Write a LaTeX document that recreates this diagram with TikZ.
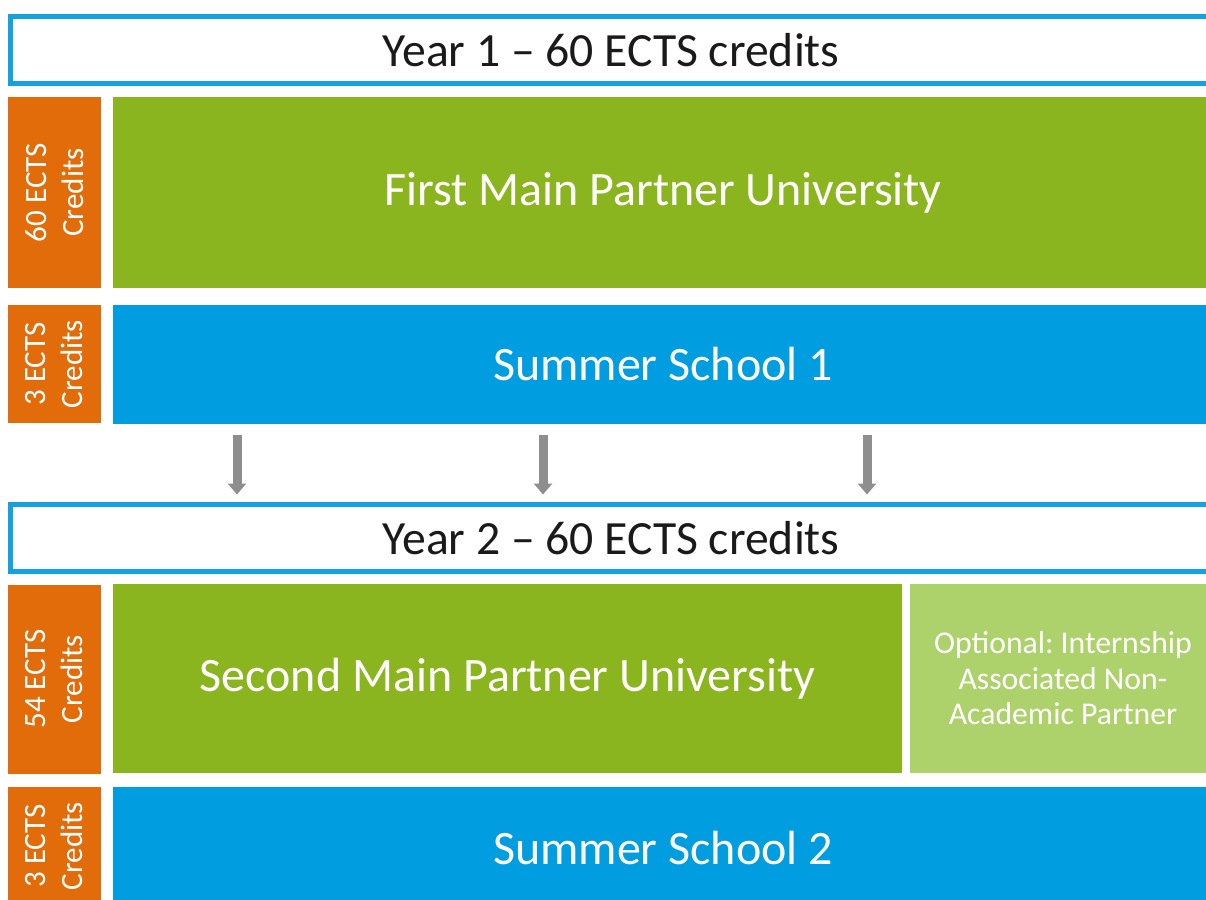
\documentclass[tikz,border=0pt]{standalone}
\usepackage{fontspec}
\setmainfont{Carlito}
\usetikzlibrary{arrows.meta}
\definecolor{orng}{HTML}{E36C0A}
\definecolor{grn}{HTML}{8AB51F}
\definecolor{lgrn}{HTML}{ADD26C}
\definecolor{blu}{HTML}{009EE0}
\definecolor{bord}{HTML}{14A1E2}
\definecolor{arrgray}{HTML}{8E8E8E}
\definecolor{txt}{HTML}{1A1A1A}
\frenchspacing
\begin{document}
\begin{tikzpicture}[x=1pt,y=-1pt,
  box/.style={anchor=north west, inner sep=0pt, outer sep=0pt, text=white, align=center},
  bigtext/.style={font=\fontsize{48}{57}\selectfont},
  yearbar/.style={box, draw=bord, line width=5pt, fill=white, text=txt, font=\fontsize{47.7}{56}\selectfont},
  credit/.style={inner sep=0pt, outer sep=0pt, fill=orng, text=white, rotate=90, align=center, font=\fontsize{31}{37}\selectfont},
  arr/.style={-{Triangle[width=18pt,length=11pt]}, line width=9pt, draw=arrgray}
]
\useasboundingbox (0,0) rectangle (1206,899);
\clip (0,0) rectangle (1206,899);
\fill[white] (0,0) rectangle (1206,899);

% Year 1
\node[yearbar, minimum width=1201pt, minimum height=66.5pt] (y1) at (10.5,16.5) {Year 1 -- 60 ECTS credits};
\node[credit, minimum width=191pt, minimum height=93pt] (c1) at (54.5,192.5) {60 ECTS\\Credits};
\node[box, bigtext, fill=grn, minimum width=1100pt, minimum height=191pt] (mp1) at (113,97) {First Main Partner University};
\node[credit, minimum width=118pt, minimum height=93pt] (c2) at (54.5,364) {3 ECTS\\Credits};
\node[box, bigtext, fill=blu, minimum width=1100pt, minimum height=119pt] (ss1) at (113,305) {Summer School 1};

% Year 2
\node[yearbar, minimum width=1201pt, minimum height=67pt] (y2) at (10.5,504.5) {Year 2 -- 60 ECTS credits};
\node[credit, minimum width=189pt, minimum height=93pt] (c3) at (54.5,679) {54 ECTS\\Credits};
\node[box, bigtext, fill=grn, minimum width=789pt, minimum height=189pt] (mp2) at (113,584) {Second Main Partner University};
\node[box, fill=lgrn, minimum width=306pt, minimum height=189pt, font=\fontsize{31.7}{35.5}\selectfont] (opt) at (910,584) {Optional: Internship\\Associated Non-\\Academic Partner};
\node[credit, minimum width=118pt, minimum height=93pt] (c4) at (54.5,846) {3 ECTS\\Credits};
\node[box, bigtext, fill=blu, minimum width=1100pt, minimum height=122pt] (ss2) at (113,787) {Summer School 2};

% arrows
\foreach \dx in {-426,-120,204}{
  \draw[arr, shorten <=11pt, shorten >=10pt] ([xshift=\dx pt]ss1.south) -- ([xshift=\dx pt]ss1.south |- y2.north);
}
\end{tikzpicture}
\end{document}
